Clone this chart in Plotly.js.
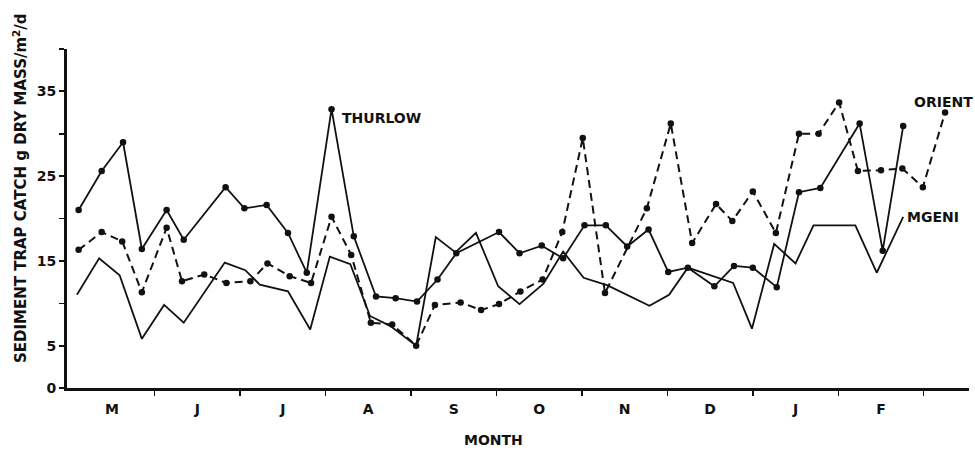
<!DOCTYPE html>
<html>
<head>
<meta charset="utf-8">
<script src="https://cdn.plot.ly/plotly-3.0.1.min.js"></script>
<style>html,body{margin:0;padding:0;background:#fff;}#chart{width:975px;height:453px;}</style>
</head>
<body>
<div id="chart"></div>
<script>
// Month positions (0 = start of May) and readings, g dry mass / m^2 / d
const thurlowX = [0.11,0.38,0.63,0.85,1.14,1.34,1.83,2.05,2.31,2.56,2.78,3.07,3.33,3.59,3.82,4.07,4.31,4.53,5.03,5.27,5.53,5.78,6.03,6.28,6.53,6.78,7.01,7.24,7.55,7.78,8.00,8.28,8.54,8.79,9.25,9.52,9.76];
const thurlowY = [21.0,25.6,29.0,16.4,21.0,17.5,23.7,21.2,21.6,18.3,13.6,32.9,17.9,10.8,10.6,10.2,12.8,15.9,18.4,15.9,16.8,15.3,19.2,19.2,16.7,18.7,13.7,14.2,12.0,14.4,14.2,11.9,23.1,23.6,31.2,16.2,30.9];

const orientX = [0.11,0.38,0.62,0.85,1.14,1.32,1.58,1.84,2.12,2.32,2.58,2.83,3.07,3.30,3.53,3.78,4.06,4.28,4.58,4.82,5.03,5.28,5.54,5.77,6.01,6.27,6.76,7.04,7.29,7.57,7.76,8.00,8.27,8.54,8.77,9.01,9.23,9.50,9.75,9.99,10.25];
const orientY = [16.3,18.4,17.3,11.3,18.9,12.6,13.4,12.4,12.6,14.7,13.2,12.4,20.2,15.7,7.7,7.5,5.0,9.8,10.1,9.2,9.9,11.4,12.8,18.4,29.5,11.2,21.2,31.2,17.1,21.7,19.7,23.2,18.3,30.0,30.0,33.7,25.6,25.7,25.9,23.7,32.5];

const mgeniX = [0.09,0.35,0.59,0.85,1.11,1.34,1.82,2.06,2.23,2.56,2.82,3.05,3.29,3.52,3.76,4.06,4.29,4.52,4.76,5.02,5.27,5.55,5.78,6.02,6.30,6.79,7.02,7.24,7.77,7.99,8.25,8.50,8.71,9.20,9.45,9.76];
const mgeniY = [11.0,15.3,13.3,5.8,9.8,7.7,14.8,13.9,12.2,11.4,6.9,15.5,14.6,8.5,7.3,5.0,17.8,16.0,18.3,12.0,9.9,12.3,16.1,13.0,12.1,9.7,11.0,14.2,12.4,7.0,17.0,14.7,19.2,19.2,13.6,20.2];

const monthLabels = ['M','J','J','A','S','O','N','D','J','F'];
const monthCenters = [0.5,1.5,2.5,3.5,4.5,5.5,6.5,7.5,8.5,9.5];
const monthBounds = [1,2,3,4,5,6,7,8,9,10];
const yLabelVals = [0,5,15,25,35];
const yMinorVals = [10,20,30,40];

const FONT = 'DejaVu Sans, sans-serif';
const traces = [
  {x: thurlowX, y: thurlowY, name: 'THURLOW', mode: 'lines+markers',
   line: {color: '#111', width: 1.8}, marker: {color: '#111', size: 6.5}},
  {x: orientX, y: orientY, name: 'ORIENT', mode: 'lines+markers',
   line: {color: '#111', width: 2, dash: '8px,5px'}, marker: {color: '#111', size: 6.5}},
  {x: mgeniX, y: mgeniY, name: 'MGENI', mode: 'lines',
   line: {color: '#111', width: 1.8}}
];

const layout = {
  width: 975, height: 453,
  margin: {l: 67, r: 6, t: 49, b: 65},
  paper_bgcolor: '#fff', plot_bgcolor: '#fff',
  showlegend: false,
  font: {family: FONT, size: 14, color: '#111'},
  xaxis: {
    range: [-0.026, 10.53], showgrid: false, zeroline: false,
    showline: true, linecolor: '#111', linewidth: 2.5,
    tickmode: 'array', tickvals: monthCenters, ticktext: monthLabels,
    ticks: 'outside', ticklen: 7, tickcolor: 'rgba(0,0,0,0)',
    tickfont: {family: FONT, size: 14, color: '#111', weight: 'bold'},
    minor: {tickmode: 'array', tickvals: monthBounds, ticks: 'outside', ticklen: 5, tickwidth: 1.5, tickcolor: '#111', showgrid: false}
  },
  yaxis: {
    range: [0, 40], showgrid: false, zeroline: false,
    showline: true, linecolor: '#111', linewidth: 3,
    tickmode: 'array', tickvals: yLabelVals, ticktext: yLabelVals.map(String),
    ticks: 'outside', ticklen: 5, tickwidth: 2, tickcolor: '#111',
    tickfont: {family: FONT, size: 14, color: '#111', weight: 'bold'},
    minor: {tickmode: 'array', tickvals: yMinorVals, ticks: 'outside', ticklen: 5, tickwidth: 1.5, tickcolor: '#111', showgrid: false}
  },
  annotations: [
    {text: 'SEDIMENT TRAP CATCH g DRY MASS/m<sup>2</sup>/d', textangle: -90,
     xref: 'paper', yref: 'paper', x: -0.052, y: 0.59, xanchor: 'center', yanchor: 'middle',
     showarrow: false, font: {family: FONT, size: 15, color: '#111', weight: 'bold'}},
    {text: 'MONTH', xref: 'paper', yref: 'paper', x: 0.473, y: -0.153, xanchor: 'center', yanchor: 'middle',
     showarrow: false, font: {family: FONT, size: 14, color: '#111', weight: 'bold'}},
    {text: 'THURLOW', xref: 'x', yref: 'y', x: 3.17, y: 31.9, xanchor: 'left', yanchor: 'middle',
     showarrow: false, font: {family: FONT, size: 14, color: '#111', weight: 'bold'}},
    {text: 'ORIENT', xref: 'x', yref: 'y', x: 9.86, y: 33.7, xanchor: 'left', yanchor: 'middle',
     showarrow: false, font: {family: FONT, size: 14, color: '#111', weight: 'bold'}},
    {text: 'MGENI', xref: 'x', yref: 'y', x: 9.78, y: 20.2, xanchor: 'left', yanchor: 'middle',
     showarrow: false, font: {family: FONT, size: 14, color: '#111', weight: 'bold'}}
  ]
};

Plotly.newPlot('chart', traces, layout, {displayModeBar: false, staticPlot: true});
</script>
</body>
</html>
